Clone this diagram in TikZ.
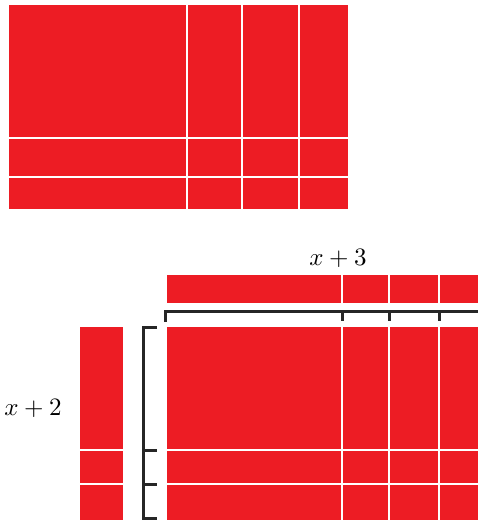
\documentclass[tikz,border=0pt]{standalone}
\usepackage{amsmath}
\definecolor{tilered}{RGB}{237,28,36}

\begin{document}
\begin{tikzpicture}[x=0.4pt, y=-0.4pt, tile/.style={fill=tilered}, gap/.style={white, line width=0.8pt}, brace/.style={black!85, line width=1.2pt}]
	\useasboundingbox (0,0) rectangle (478,521);
	% upper product
	\fill[tile] (9,5) rectangle (348,209);
	\foreach \x in {187,242,299} {\draw[gap] (\x,5) -- (\x,209);}
	\foreach \y in {138,177} {\draw[gap] (9,\y) -- (348,\y);}
	% top factor and its bracket
	\fill[tile] (167,275) rectangle (478,303);
	\foreach \x in {342,389,439} {\draw[gap] (\x,275) -- (\x,303);}
	\node (lenx) at (338,258) {$x+3$};
	\draw[brace] (165,322) -- (165,311) -- (478,311);
	\foreach \x in {342,389,439} {\draw[brace] (\x,311) -- (\x,321);}
	% left factor and its bracket
	\fill[tile] (80,327) rectangle (123,520);
	\foreach \y in {450,484} {\draw[gap] (80,\y) -- (123,\y);}
	\node (leny) at (33,408) {$x+2$};
	\draw[brace] (157,327) -- (143,327) -- (143,518) -- (157,518);
	\foreach \y in {450,484} {\draw[brace] (143,\y) -- (157,\y);}
	% lower product
	\fill[tile] (167,327) rectangle (478,520);
	\foreach \x in {342,389,439} {\draw[gap] (\x,327) -- (\x,520);}
	\foreach \y in {450,484} {\draw[gap] (167,\y) -- (478,\y);}
\end{tikzpicture}
\end{document}
